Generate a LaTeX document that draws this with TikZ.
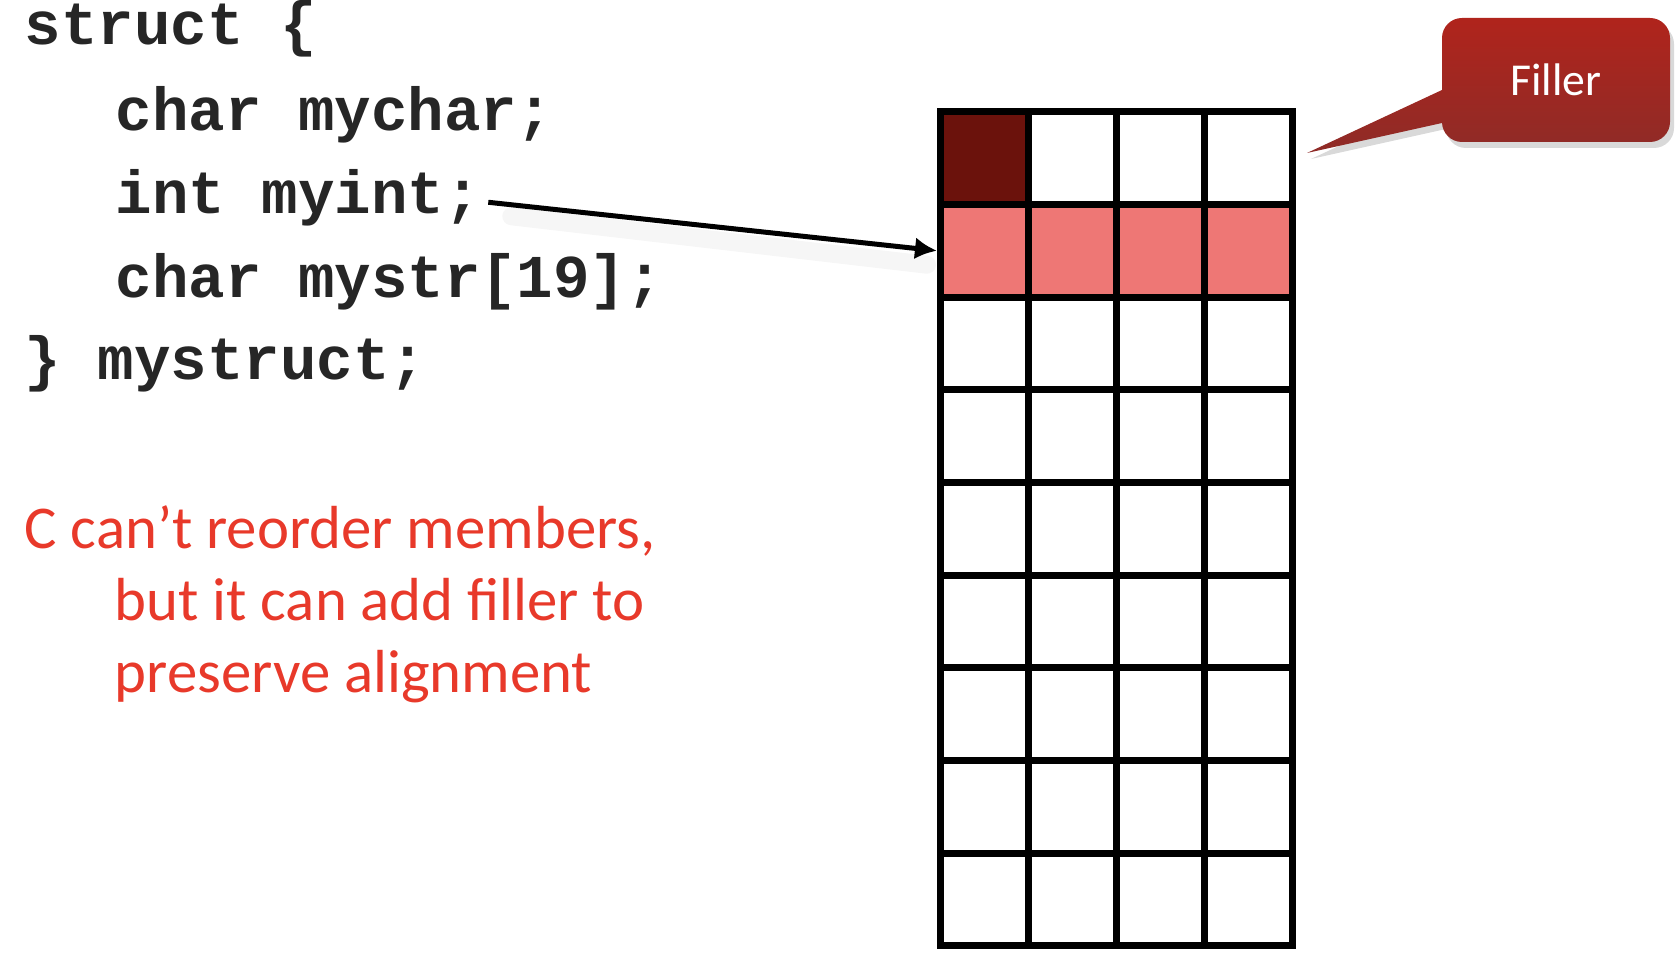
\documentclass[tikz,border=0pt]{standalone}
\usepackage{fontspec}
\setmainfont{Carlito}
\setmonofont{Liberation Mono}
\usetikzlibrary{arrows.meta, shadows}
\definecolor{codegray}{HTML}{262626}
\definecolor{notered}{HTML}{E8392A}
\definecolor{padcolor}{HTML}{6B120C}
\definecolor{intcolor}{HTML}{EE7775}
\definecolor{calltop}{HTML}{B0241C}
\definecolor{callbot}{HTML}{8E2B27}

\begin{document}
\begin{tikzpicture}[x=0.1mm, y=-0.1mm,
  code/.style={anchor=base west, inner sep=0pt, text=codegray,
    font=\fontsize{17.3}{20}\selectfont\ttfamily\bfseries},
  note/.style={anchor=base west, inner sep=0pt, text=notered,
    font=\fontsize{17.3}{20}\selectfont},
  cell/.style={draw, line width=0.7mm, minimum width=8.81mm,
    minimum height=9.27mm, inner sep=0pt}]
\useasboundingbox (0,0) rectangle (1680,976);

% the struct
\node[code] (structopen) at (24,45) {struct \{};
\node[code] (mychar) at (115,131) {char mychar;};
\node[code] (myint) at (115,214) {int myint;};
\node[code] (mystr) at (115,298) {char mystr[19];};
\node[code] (structclose) at (24,380) {\} mystruct;};

\node[note] (note1) at (24,549) {C can’t reorder members,};
\node[note] (note2) at (114,621) {but it can add filler to};
\node[note] (note3) at (114,693) {preserve alignment};

% memory, 4 bytes a row
\foreach \r in {1,...,9}
  \foreach \c in {1,...,4} {
    \def\cellfill{white}
    \ifnum\r=2 \def\cellfill{intcolor}\fi
    \ifnum\r\c=11 \def\cellfill{padcolor}\fi
    \node[cell, fill=\cellfill] (c-\r-\c) at ({984.55+88.1*(\c-1)},{158.05+92.7*(\r-1)}) {};
  }

\draw[black, opacity=0.035, line width=1.8mm, line cap=round]
  ([shift={(30,18)}]myint.east) -- ([shift={(-10,14)}]c-2-1.west);
\draw[line width=0.5mm, -{Latex[length=2.2mm, width=2.2mm]}]
  ([xshift=0.7mm, yshift=-0.4mm]myint.east) -- (c-2-1.west);

% callout
\path[drop shadow={opacity=0.3, shadow xshift=0.4mm, shadow yshift=-0.6mm},
  top color=calltop, bottom color=callbot]
  (1442,90) -- (1307,153) -- (1442,123) -- cycle
  [rounded corners=2mm] (1442,18) rectangle (1670,142);
\node[text=white, font=\fontsize{13}{15}\selectfont] (filler) at (1556,80) {Filler};
\end{tikzpicture}
\end{document}
